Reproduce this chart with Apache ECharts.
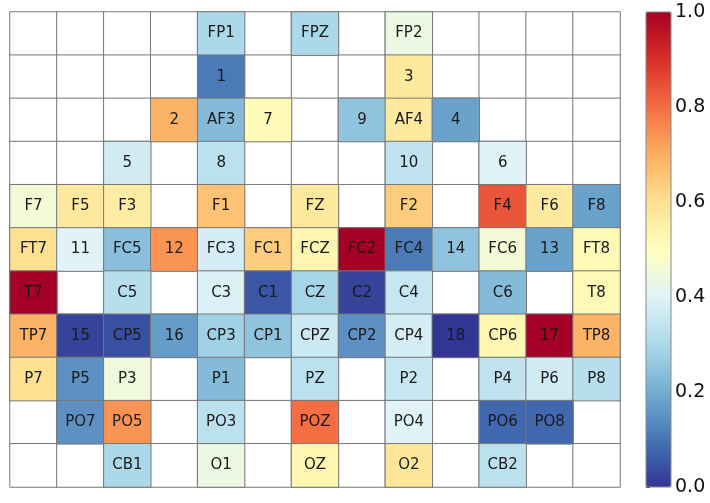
<!DOCTYPE html>
<html>
<head>
<meta charset="utf-8">
<script src="https://cdn.jsdelivr.net/npm/echarts@6/dist/echarts.min.js"></script>
<style>
    html, body { margin: 0; padding: 0; background: #fff; }
    #chart { width: 710px; height: 503px; }
</style>
</head>
<body>
<div id="chart"></div>
<script>
    // electrode layout, one row per line, '' = empty cell
    var labels = [
        ['', '', '', '', 'FP1', '', 'FPZ', '', 'FP2', '', '', '', ''],
        ['', '', '', '', '1', '', '', '', '3', '', '', '', ''],
        ['', '', '', '2', 'AF3', '7', '', '9', 'AF4', '4', '', '', ''],
        ['', '', '5', '', '8', '', '', '', '10', '', '6', '', ''],
        ['F7', 'F5', 'F3', '', 'F1', '', 'FZ', '', 'F2', '', 'F4', 'F6', 'F8'],
        ['FT7', '11', 'FC5', '12', 'FC3', 'FC1', 'FCZ', 'FC2', 'FC4', '14', 'FC6', '13', 'FT8'],
        ['T7', '', 'C5', '', 'C3', 'C1', 'CZ', 'C2', 'C4', '', 'C6', '', 'T8'],
        ['TP7', '15', 'CP5', '16', 'CP3', 'CP1', 'CPZ', 'CP2', 'CP4', '18', 'CP6', '17', 'TP8'],
        ['P7', 'P5', 'P3', '', 'P1', '', 'PZ', '', 'P2', '', 'P4', 'P6', 'P8'],
        ['', 'PO7', 'PO5', '', 'PO3', '', 'POZ', '', 'PO4', '', 'PO6', 'PO8', ''],
        ['', '', 'CB1', '', 'O1', '', 'OZ', '', 'O2', '', 'CB2', '', '']
    ];
    var values = [
        [null, null, null, null, 0.30, null, 0.30, null, 0.44, null, null, null, null],
        [null, null, null, null, 0.11, null, null, null, 0.57, null, null, null, null],
        [null, null, null, 0.69, 0.23, 0.51, null, 0.25, 0.57, 0.18, null, null, null],
        [null, null, 0.37, null, 0.33, null, null, null, 0.34, null, 0.40, null, null],
        [0.46, 0.57, 0.56, null, 0.66, null, 0.57, null, 0.64, null, 0.84, 0.57, 0.18],
        [0.60, 0.40, 0.24, 0.74, 0.38, 0.64, 0.53, 1.00, 0.11, 0.25, 0.46, 0.18, 0.52],
        [1.00, null, 0.32, null, 0.39, 0.05, 0.29, 0.02, 0.35, null, 0.23, null, 0.52],
        [0.69, 0.02, 0.04, 0.17, 0.28, 0.25, 0.36, 0.15, 0.38, 0.00, 0.53, 1.00, 0.69],
        [0.60, 0.15, 0.45, null, 0.23, null, 0.33, null, 0.35, null, 0.34, 0.37, 0.32],
        [null, 0.15, 0.74, null, 0.33, null, 0.80, null, 0.40, null, 0.08, 0.08, null],
        [null, null, 0.30, null, 0.44, null, 0.53, null, 0.58, null, 0.33, null, null]
    ];
    var colorTicks = [0, 0.2, 0.4, 0.6, 0.8, 1.0];

    var nCols = labels[0].length, nRows = labels.length;
    var cols = [], rows = [];
    for (var c = 0; c < nCols; c++) cols.push(c);
    for (var r = 0; r < nRows; r++) rows.push(r);

    var bgData = [], cellData = [];
    labels.forEach(function (row, r) {
        row.forEach(function (lab, c) {
            bgData.push([c, r, 0]);
            if (values[r][c] !== null) {
                cellData.push({ name: lab, value: [c, r, values[r][c]] });
            }
        });
    });

    var myChart = echarts.init(document.getElementById('chart'));
    var options = {
        animation: false,
        backgroundColor: '#fff',
        grid: [
            { left: 10, top: 12, width: 610, height: 475 },
            { left: 646, top: 12, width: 25, height: 475, show: true,
              borderColor: '#888', borderWidth: 1, backgroundColor: 'transparent', z: 10 }
        ],
        xAxis: [
            { type: 'category', data: cols, gridIndex: 0, show: false },
            { type: 'value', gridIndex: 1, show: false, min: 0, max: 1 }
        ],
        yAxis: [
            { type: 'category', data: rows, gridIndex: 0, inverse: true, show: false },
            {
                type: 'value', gridIndex: 1, position: 'right',
                min: colorTicks[0], max: colorTicks[colorTicks.length - 1], interval: 0.2,
                axisLine: { show: false },
                splitLine: { show: false },
                axisTick: { show: true, inside: false, length: 4, lineStyle: { color: '#333' } },
                axisLabel: {
                    color: '#111', fontSize: 19, fontFamily: 'DejaVu Sans', margin: 4,
                    formatter: function (v) { return v.toFixed(1); }
                }
            }
        ],
        visualMap: {
            type: 'continuous',
            min: 0, max: 1,
            seriesIndex: 1,
            calculable: false,
            orient: 'vertical',
            left: 646, top: 12,
            padding: 0,
            itemWidth: 25, itemHeight: 475,
            text: ['', ''],
            showLabel: false,
            inRange: {
                color: ['#313695', '#4575b4', '#74add1', '#abd9e9', '#e0f3f8', '#ffffbf',
                        '#fee090', '#fdae61', '#f46d43', '#d73027', '#a50026']
            }
        },
        series: [
            {
                type: 'heatmap',
                xAxisIndex: 0, yAxisIndex: 0,
                data: bgData,
                itemStyle: { color: '#fff', borderColor: '#777', borderWidth: 1 },
                silent: true
            },
            {
                type: 'heatmap',
                xAxisIndex: 0, yAxisIndex: 0,
                data: cellData,
                itemStyle: { borderColor: '#777', borderWidth: 1 },
                label: {
                    show: true,
                    color: '#1a1a1a',
                    fontSize: 15,
                    fontFamily: 'DejaVu Sans',
                    formatter: function (p) { return p.name; }
                }
            }
        ]
    };
    myChart.setOption(options);
</script>
</body>
</html>
